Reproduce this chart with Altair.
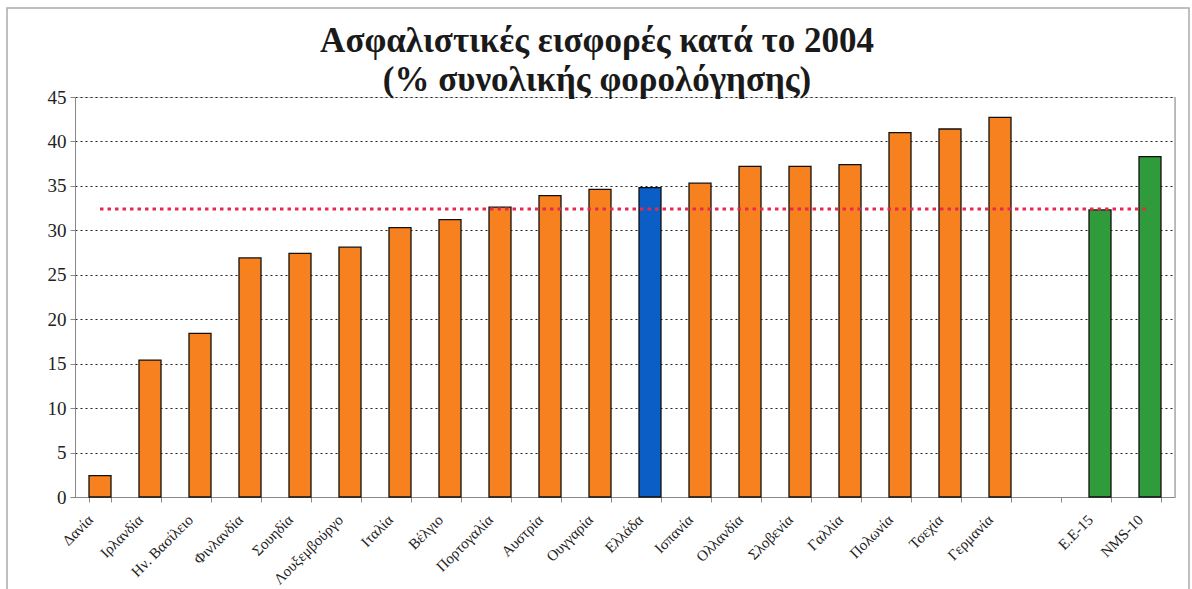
import altair as alt
import pandas as pd

countries = ["Δανία", "Ιρλανδία", "Ην. Βασίλειο", "Φινλανδία", "Σουηδία",
             "Λουξεμβούργο", "Ιταλία", "Βέλγιο", "Πορτογαλία", "Αυστρία",
             "Ουγγαρία", "Ελλάδα", "Ισπανία", "Ολλανδία", "Σλοβενία",
             "Γαλλία", "Πολωνία", "Τσεχία", "Γερμανία", "Ε.Ε-15", "NMS-10"]
values = [2.4, 15.4, 18.4, 26.9, 27.4, 28.1, 30.3, 31.2, 32.6, 33.9,
          34.6, 34.8, 35.3, 37.2, 37.2, 37.4, 41.0, 41.4, 42.7, 32.3, 38.3]
groups = ["country"] * 11 + ["greece"] + ["country"] * 7 + ["aggregate"] * 2
gap_label = " "
axis_order = countries[:19] + [gap_label] + countries[19:]
eu15_average = 32.4
y_ticks = [0, 5, 10, 15, 20, 25, 30, 35, 40, 45]
title_lines = ["Ασφαλιστικές εισφορές κατά το 2004", "(% συνολικής φορολόγησης)"]

df = pd.DataFrame({"country": countries, "value": values, "group": groups})
avg_df = pd.DataFrame({"start": [countries[0]], "end": [countries[-1]], "avg": [eu15_average]})
one = pd.DataFrame({"k": [0]})

SERIF = "'Liberation Serif', 'DejaVu Serif', 'Times New Roman', serif"

x_scale = alt.Scale(domain=axis_order, paddingInner=0.56, paddingOuter=0.28)
y_scale = alt.Scale(domain=[0, 45], nice=False)

bars = alt.Chart(df).mark_bar(stroke="#111111", strokeWidth=1.3).encode(
    x=alt.X("country:N", scale=x_scale, sort=axis_order,
            axis=alt.Axis(title=None, labelAngle=-45, labelFont=SERIF, labelFontSize=15,
                          labelColor="#222222", labelPadding=10, labelOffset=-15,
                          tickBand="extent", tickSize=5, tickColor="#888888",
                          domainColor="#888888", labelOverlap=False, labelLimit=200)),
    y=alt.Y("value:Q", scale=y_scale,
            axis=alt.Axis(title=None, values=y_ticks, labelFont=SERIF, labelFontSize=19,
                          labelColor="#222222", labelPadding=4, tickSize=5,
                          tickColor="#888888", domainColor="#888888",
                          grid=True, gridColor="#222222", gridDash=[2, 3], gridWidth=1.1)),
    color=alt.Color("group:N", legend=None,
                    scale=alt.Scale(domain=["country", "greece", "aggregate"],
                                    range=["#F7811E", "#0B5EC5", "#2F9B3A"])),
)

avg_line = alt.Chart(avg_df).mark_rule(color="#E8284E", strokeWidth=3.2, strokeDash=[3.5, 4]).encode(
    x=alt.X("start:N", scale=x_scale, sort=axis_order),
    x2="end:N",
    y=alt.Y("avg:Q", scale=y_scale),
)

right_edge = alt.Chart(one).mark_rule(color="#999999", strokeWidth=1.2).encode(
    x=alt.value(1100), y=alt.value(0), y2=alt.value(400)
)

frame = alt.Chart(one).mark_rect(fill="transparent", stroke="#aaaaaa", strokeWidth=1.5).encode(
    x=alt.value(-68), x2=alt.value(1114), y=alt.value(-89), y2=alt.value(600)
)

chart = alt.layer(frame, bars, avg_line, right_edge).properties(
    width=1100, height=400,
    padding={"left": 75, "top": 97, "right": 17, "bottom": 92},
    autosize=alt.AutoSizeParams(type="none"),
    title=alt.TitleParams(text=title_lines, font=SERIF, fontSize=35, fontWeight="bold",
                          color="#1a1a1a", anchor="middle", dx=-28, offset=-91, lineHeight=39),
).configure_view(stroke=None).configure(background="white")

chart.save("out.html", embed_options={"renderer": "svg", "actions": False})
